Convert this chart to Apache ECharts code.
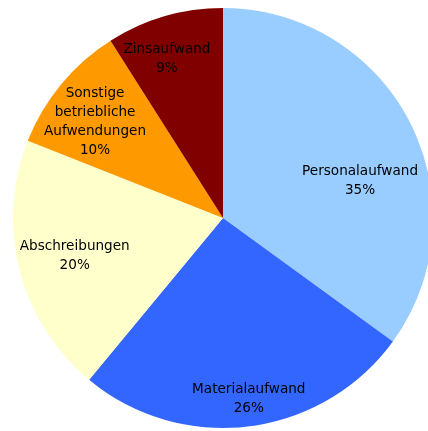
<!DOCTYPE html>
<html><head><meta charset="utf-8">
<script src="https://cdn.jsdelivr.net/npm/echarts@6/dist/echarts.min.js"></script>
<style>html,body{margin:0;padding:0;background:#fff}#c{width:428px;height:431px}</style>
</head><body><div id="c"></div>
<script>
const categories = ['Personalaufwand', 'Materialaufwand', 'Abschreibungen', 'Sonstige\nbetriebliche\nAufwendungen', 'Zinsaufwand'];
const values = [35, 26, 20, 10, 9];
const colors = ['#99CCFF', '#3366FF', '#FFFFCC', '#FF9900', '#800000'];
// label placement (style): fraction of radius and angular shift in degrees
const labelRadius = [0.676, 0.871, 0.729, 0.762, 0.803];
const labelShift = [11.9, -0.9, 0, -2.7, -3.2];

const cx = 223, cy = 218, R = 210;
const total = values.reduce((a, b) => a + b, 0);
const mids = [];
let acc = 0;
values.forEach(v => { mids.push((acc + v / 2) / total * 360); acc += v; });

const chart = echarts.init(document.getElementById('c'), null, {renderer: 'canvas'});
chart.setOption({
  animation: false,
  series: [{
    type: 'pie',
    center: [cx, cy],
    radius: R,
    startAngle: 90,
    clockwise: true,
    avoidLabelOverlap: false,
    data: categories.map((n, i) => ({name: n, value: values[i], itemStyle: {color: colors[i]}})),
    itemStyle: {borderWidth: 0},
    label: {
      show: true,
      position: 'inside',
      formatter: p => p.name + '\n' + Math.round(p.percent) + '%',
      color: '#000',
      fontFamily: 'DejaVu Sans',
      fontSize: 13.6,
      lineHeight: 19,
      align: 'center'
    },
    labelLine: {show: false},
    labelLayout: function (p) {
      const i = p.dataIndex;
      const a = (mids[i] + labelShift[i]) * Math.PI / 180;
      const r = R * labelRadius[i];
      return {x: cx + r * Math.sin(a), y: cy - r * Math.cos(a), align: 'center', verticalAlign: 'middle'};
    }
  }]
});
</script></body></html>
